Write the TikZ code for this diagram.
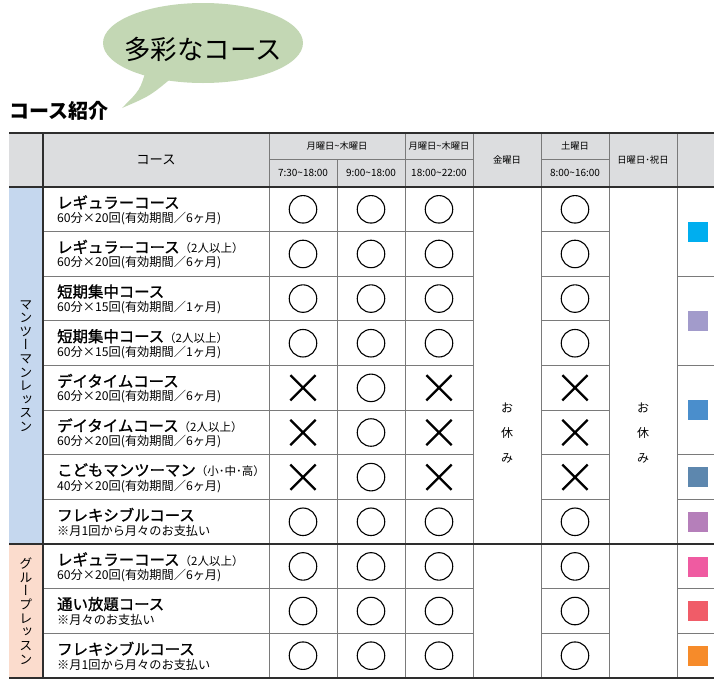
\documentclass[tikz,border=0pt]{standalone}
\usepackage{fontspec}
\setmainfont{Noto Sans CJK JP}
\newfontfamily\vjp{Noto Sans CJK JP}[RawFeature=+vert]
\newfontfamily\jpmed{Noto Sans CJK JP}[FakeBold=1.3]
\usetikzlibrary{shapes.misc}
\definecolor{hdr}{HTML}{DCDDDF}
\definecolor{lblblue}{HTML}{C5D7EE}
\definecolor{lblsalmon}{HTML}{FBDCCD}
\definecolor{bubble}{HTML}{C3D7B4}
\definecolor{thinc}{HTML}{7A7A7A}
\definecolor{thickc}{HTML}{2E2E2E}
\definecolor{sqa}{HTML}{00AEEF}
\definecolor{sqb}{HTML}{A29BCB}
\definecolor{sqc}{HTML}{4A8ECC}
\definecolor{sqd}{HTML}{5D87AE}
\definecolor{sqe}{HTML}{B57FBA}
\definecolor{sqf}{HTML}{EF5BA1}
\definecolor{sqg}{HTML}{F05C68}
\definecolor{sqh}{HTML}{F68B2A}
\newcommand\fs[1]{\fontsize{#1}{#1}\selectfont}
\newcommand\tl{\textasciitilde}
\newcommand\course[4]{%
  \pgfmathsetmacro\cy{187+44.636*(#1-0.5)}%
  \node[mainT] (m#1) at (57,\cy-7) {#2{\normalfont\fs{11.5}#3}};
  \node[subT] (s#1) at (57,\cy+9) {#4};
}
\tikzset{
  thinline/.style={line width=0.9pt, draw=thinc},
  thickline/.style={line width=1.8pt, draw=thickc},
  ok/.style={circle, draw=black, line width=1.1pt, minimum size=27.5pt, inner sep=0pt},
  ng/.style={cross out, draw=black, line width=2.3pt, minimum size=23pt, inner sep=0pt},
  sq/.style={minimum size=21pt, inner sep=0pt, draw=white, line width=0.6pt},
  mainT/.style={anchor=west, inner sep=0pt, font=\jpmed\fs{15.4}},
  subT/.style={anchor=west, inner sep=0pt, font=\fs{12.2}},
  hsmall/.style={inner sep=0pt, font=\fs{9.3}},
  htime/.style={inner sep=0pt, font=\fs{10}},
  rest/.style={inner sep=0pt, align=center, font=\fs{12}, text depth=0pt},
}
\begin{document}
\begin{tikzpicture}[x=1pt,y=-1pt]
\useasboundingbox (0,0) rectangle (724,689);
% speech bubble
\fill[bubble] (146,70) .. controls (140,90) .. (122,108) .. controls (150,96) .. (174,76) -- cycle;
\fill[bubble] (203,43) ellipse [x radius=100pt, y radius=40pt];
\node[inner sep=0pt, font=\fs{26.5}] (bub) at (203,49) {多彩なコース};
\node[anchor=west, inner sep=0pt, font=\bfseries\fs{20}] (title) at (9,111) {コース紹介};
% fills
\fill[hdr] (9,133) rectangle (714,187);
\fill[lblblue] (9,187) rectangle (43,544.1);
\fill[lblsalmon] (9,544.1) rectangle (43,678);
% thin grid
\foreach \k in {1,...,7,9,10}{
  \pgfmathsetmacro\yy{187+44.636*\k}
  \draw[thinline] (43,\yy) -- (473,\yy);
  \draw[thinline] (541,\yy) -- (609,\yy);
}
\foreach \k in {2,4,6,7,9,10}{
  \pgfmathsetmacro\yy{187+44.636*\k}
  \draw[thinline] (677,\yy) -- (714,\yy);
}
\foreach \xx in {269,337,405,473,541,609,677}{
  \draw[thinline] (\xx,187) -- (\xx,678);
}
\foreach \xx in {269,405,473,541,609,677}{
  \draw[thinline] (\xx,133) -- (\xx,187);
}
\draw[thinline] (337,159) -- (337,187);
\draw[thinline] (269,159) -- (473,159);
\draw[thinline] (541,159) -- (609,159);
\draw[line width=1.3pt, draw=thickc] (43,133) -- (43,678);
% thick lines
\draw[line width=1.4pt, draw=thickc] (9,133) -- (714,133);
\draw[thickline] (9,187) -- (714,187);
\draw[thickline] (9,544.1) -- (714,544.1);
\draw[thickline] (9,678) -- (714,678);
% header texts
\node[inner sep=0pt, font=\fs{13.3}] (hc) at (156,160) {コース};
\node[hsmall] (h1) at (337,146) {月曜日\tl 木曜日};
\node[hsmall] (h2) at (439,146) {月曜日\tl 木曜日};
\node[htime] (t1) at (303,173) {7:30\tl 18:00};
\node[htime] (t2) at (371,173) {9:00\tl 18:00};
\node[htime] (t3) at (439,173) {18:00\tl 22:00};
\node[hsmall] (h3) at (507,159.5) {金曜日};
\node[hsmall] (h4) at (575,145.5) {土曜日};
\node[htime] (t4) at (575,173) {8:00\tl 16:00};
\node[hsmall] (h5) at (643,159.5) {日曜日･祝日};
% group labels
\node[inner sep=0pt, align=center, font=\vjp\fontsize{13}{13.6}\selectfont] (g1) at (26,366)
  {マ\\ン\\ツ\\ー\\マ\\ン\\レ\\ッ\\ス\\ン};
\node[inner sep=0pt, align=center, font=\vjp\fontsize{13}{13.7}\selectfont] (g2) at (26,611)
  {グ\\ル\\ー\\プ\\レ\\ッ\\ス\\ン};
% courses
\course{1}{レギュラーコース}{}{60分×20回(有効期間／6ヶ月)}
\course{2}{レギュラーコース}{（2人以上）}{60分×20回(有効期間／6ヶ月)}
\course{3}{短期集中コース}{}{60分×15回(有効期間／1ヶ月)}
\course{4}{短期集中コース}{（2人以上）}{60分×15回(有効期間／1ヶ月)}
\course{5}{デイタイムコース}{}{60分×20回(有効期間／6ヶ月)}
\course{6}{デイタイムコース}{（2人以上）}{60分×20回(有効期間／6ヶ月)}
\course{7}{こどもマンツーマン}{（小･中･高）}{40分×20回(有効期間／6ヶ月)}
\course{8}{フレキシブルコース}{}{※月1回から月々のお支払い}
\course{9}{レギュラーコース}{（2人以上）}{60分×20回(有効期間／6ヶ月)}
\course{10}{通い放題コース}{}{※月々のお支払い}
\course{11}{フレキシブルコース}{}{※月1回から月々のお支払い}
% marks
\foreach \r in {1,2,3,4,8,9,10,11}{
  \pgfmathsetmacro\cy{187+44.636*(\r-0.5)}
  \node[ok] (a\r) at (303,\cy) {};
  \node[ok] (b\r) at (371,\cy) {};
  \node[ok] (c\r) at (439,\cy) {};
  \node[ok] (d\r) at (575,\cy) {};
}
\foreach \r in {5,6,7}{
  \pgfmathsetmacro\cy{187+44.636*(\r-0.5)}
  \node[ng] (a\r) at (303,\cy) {};
  \node[ok] (b\r) at (371,\cy) {};
  \node[ng] (c\r) at (439,\cy) {};
  \node[ng] (d\r) at (575,\cy) {};
}
% holidays
\node[rest] (fri) at (507,433) {お\\[13pt]休\\[13pt]み};
\node[rest] (sun) at (643,433) {お\\[13pt]休\\[13pt]み};
% colour squares
\node[sq, fill=sqa] (q1) at (697.5,231.6) {};
\node[sq, fill=sqb] (q2) at (697.5,320.9) {};
\node[sq, fill=sqc] (q3) at (697.5,410.2) {};
\node[sq, fill=sqd] (q4) at (697.5,477.2) {};
\node[sq, fill=sqe] (q5) at (697.5,521.8) {};
\node[sq, fill=sqf] (q6) at (697.5,566.5) {};
\node[sq, fill=sqg] (q7) at (697.5,611.1) {};
\node[sq, fill=sqh] (q8) at (697.5,655.8) {};
\end{tikzpicture}
\end{document}
